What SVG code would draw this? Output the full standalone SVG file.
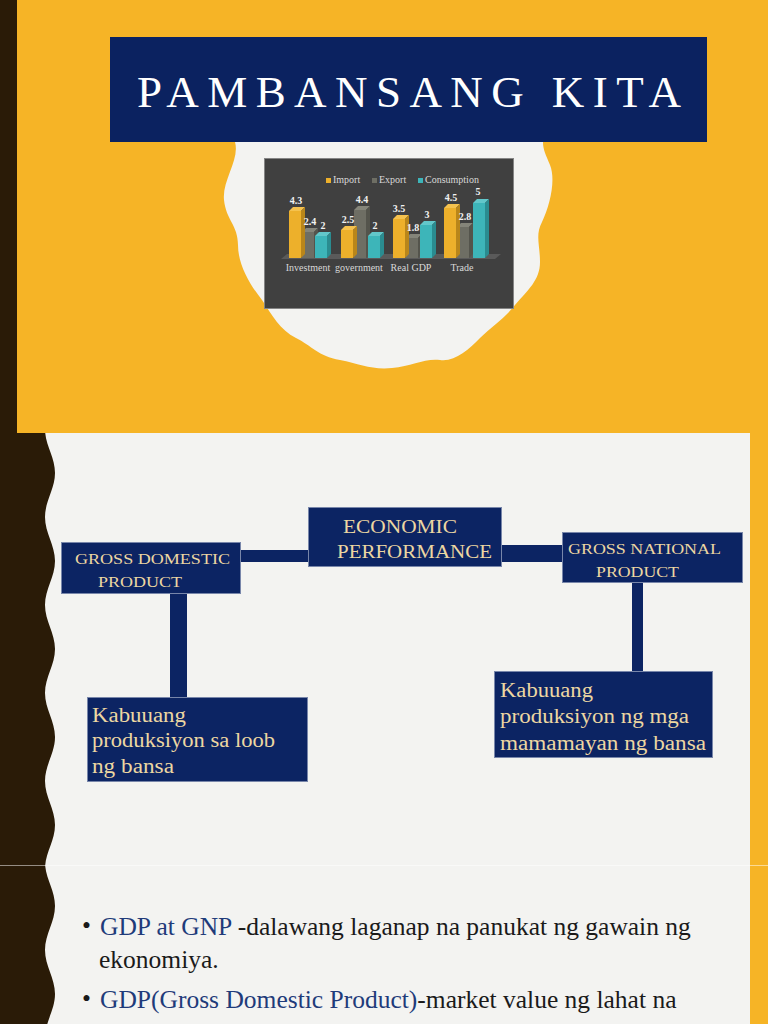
<svg xmlns="http://www.w3.org/2000/svg" width="768" height="1024" viewBox="0 0 768 1024">
<defs>
<style>
.serif{font-family:"Liberation Serif","DejaVu Serif",serif}
.node{fill:#0C2463;stroke:#7886aa;stroke-width:1}
.ntext{font-family:"Liberation Serif","DejaVu Serif",serif;fill:#EDD7A2}
.conn{fill:#0C2463}
.ctext{font-family:"Liberation Serif","DejaVu Serif",serif;font-size:10px;fill:#d9d9d9}
.val{font-family:"Liberation Serif","DejaVu Serif",serif;font-size:10px;font-weight:bold;fill:#f2f2f2;text-anchor:middle}
.imp{fill:#EDB02B}.impT{fill:#F5C24E}.impS{fill:#B9861A}
.exp{fill:#6E6E64}.expT{fill:#85857a}.expS{fill:#54544c}
.con{fill:#3DB5B9}.conT{fill:#62C7CA}.conS{fill:#2A8C90}
.body{font-family:"Liberation Serif","DejaVu Serif",serif;font-size:25.5px;fill:#1a1a1a}
.blue{fill:#1F3B7A}
</style>
<clipPath id="c2"><rect x="0" y="433" width="768" height="433"/></clipPath>
<clipPath id="c3"><rect x="0" y="866" width="768" height="158"/></clipPath>
</defs>

<!-- Slide 1 -->
<g id="slide1">
<rect x="0" y="0" width="768" height="433" fill="#F6B426"/>
<rect x="0" y="0" width="17" height="433" fill="#2A1B07"/>
<path id="cloud" d="M235,142 C240,160 222,180 224,200 C226,220 238,225 238,245 C238,265 250,285 262,300 C272,315 280,330 296,338 C312,346 318,356 340,360 C360,364 372,370 392,368 C412,366 425,358 440,360 C455,362 468,350 480,338 C492,326 505,318 515,305 C528,290 540,280 540,262 C540,245 535,235 542,222 C550,205 556,180 550,165 C546,155 543,150 543,142 Z" fill="#F3F3F1"/>
</g>

<g id="title">
<rect x="110" y="37" width="597" height="105" fill="#0B2260"/>
<text x="137" y="107" class="serif" font-family="Liberation Serif, serif" font-size="45" fill="#ffffff" textLength="544" lengthAdjust="spacing">PAMBANSANG KITA</text>
</g>

<g id="chart">
<rect x="264.5" y="158.5" width="249" height="150" fill="#404040" stroke="#858585" stroke-width="1"/>
<rect x="326" y="178" width="5" height="5" class="imp"/>
<text x="333" y="183" class="ctext">Import</text>
<rect x="372" y="178" width="5" height="5" class="exp"/>
<text x="379" y="183" class="ctext">Export</text>
<rect x="418" y="178" width="5" height="5" class="con"/>
<text x="425" y="183" class="ctext">Consumption</text>
<polygon points="281,259 495,259 501,254 287,254" fill="#5a5a5a"/>
<polygon points="302,232 306,228 318,228 314,232" class="expT"/><polygon points="314,232 318,228 318,254 314,258" class="expS"/><rect x="302" y="232" width="12" height="26" class="exp"/>
<polygon points="289,211 293,207 305,207 301,211" class="impT"/><polygon points="301,211 305,207 305,254 301,258" class="impS"/><rect x="289" y="211" width="12" height="47" class="imp"/>
<polygon points="315,236 319,232 331,232 327,236" class="conT"/><polygon points="327,236 331,232 331,254 327,258" class="conS"/><rect x="315" y="236" width="12" height="22" class="con"/>
<polygon points="354,210 358,206 370,206 366,210" class="expT"/><polygon points="366,210 370,206 370,254 366,258" class="expS"/><rect x="354" y="210" width="12" height="48" class="exp"/>
<polygon points="341,230 345,226 357,226 353,230" class="impT"/><polygon points="353,230 357,226 357,254 353,258" class="impS"/><rect x="341" y="230" width="12" height="28" class="imp"/>
<polygon points="368,236 372,232 384,232 380,236" class="conT"/><polygon points="380,236 384,232 384,254 380,258" class="conS"/><rect x="368" y="236" width="12" height="22" class="con"/>
<polygon points="406,238 410,234 422,234 418,238" class="expT"/><polygon points="418,238 422,234 422,254 418,258" class="expS"/><rect x="406" y="238" width="12" height="20" class="exp"/>
<polygon points="393,219 397,215 409,215 405,219" class="impT"/><polygon points="405,219 409,215 409,254 405,258" class="impS"/><rect x="393" y="219" width="12" height="39" class="imp"/>
<polygon points="420,225 424,221 436,221 432,225" class="conT"/><polygon points="432,225 436,221 436,254 432,258" class="conS"/><rect x="420" y="225" width="12" height="33" class="con"/>
<polygon points="457,227 461,223 473,223 469,227" class="expT"/><polygon points="469,227 473,223 473,254 469,258" class="expS"/><rect x="457" y="227" width="12" height="31" class="exp"/>
<polygon points="444,208 448,204 460,204 456,208" class="impT"/><polygon points="456,208 460,204 460,254 456,258" class="impS"/><rect x="444" y="208" width="12" height="50" class="imp"/>
<polygon points="473,203 477,199 489,199 485,203" class="conT"/><polygon points="485,203 489,199 489,254 485,258" class="conS"/><rect x="473" y="203" width="12" height="55" class="con"/>
<text x="296" y="204" class="val">4.3</text>
<text x="310" y="225" class="val">2.4</text>
<text x="323" y="229" class="val">2</text>
<text x="348" y="223" class="val">2.5</text>
<text x="362" y="203" class="val">4.4</text>
<text x="375" y="229" class="val">2</text>
<text x="399" y="212" class="val">3.5</text>
<text x="413" y="231" class="val">1.8</text>
<text x="427" y="218" class="val">3</text>
<text x="451" y="201" class="val">4.5</text>
<text x="465" y="220" class="val">2.8</text>
<text x="478" y="195" class="val">5</text>
<text x="308" y="271" class="ctext" text-anchor="middle">Investment</text>
<text x="359" y="271" class="ctext" text-anchor="middle">government</text>
<text x="411" y="271" class="ctext" text-anchor="middle">Real GDP</text>
<text x="462" y="271" class="ctext" text-anchor="middle">Trade</text>
</g>

<!-- Slide 2 -->
<g id="slide2" clip-path="url(#c2)">
<rect x="0" y="433" width="768" height="433" fill="#F3F3F1"/>
<rect x="750" y="433" width="18" height="433" fill="#F6B426"/>
<path d="M0,429 H45 C45,445 55,457 55,473 C55,489 45,501 45,517 C45,533 55,545 55,561 C55,577 45,589 45,605 C45,621 55,633 55,649 C55,665 45,677 45,693 C45,709 55,721 55,737 C55,753 45,765 45,781 C45,797 55,809 55,825 C55,841 45,853 45,869 H0 Z" fill="#2A1B07"/>
</g>

<g id="connectors">
<rect x="241" y="550" width="68" height="12" class="conn"/>
<rect x="500" y="545" width="63" height="17" class="conn"/>
<rect x="170" y="593" width="17" height="105" class="conn"/>
<rect x="632" y="582" width="11" height="90" class="conn"/>
</g>

<g id="economic-performance">
<rect x="308.5" y="507.5" width="193" height="59" class="node"/>
<text x="343" y="533" class="ntext" font-family="Liberation Serif, serif" font-size="19.5" textLength="114" lengthAdjust="spacingAndGlyphs">ECONOMIC</text>
<text x="337" y="558" class="ntext" font-family="Liberation Serif, serif" font-size="19.5" textLength="155" lengthAdjust="spacingAndGlyphs">PERFORMANCE</text>
</g>

<g id="gdp">
<rect x="61.5" y="542.5" width="179" height="51" class="node"/>
<text x="75" y="564" class="ntext" font-family="Liberation Serif, serif" font-size="15.5" textLength="155" lengthAdjust="spacingAndGlyphs">GROSS DOMESTIC</text>
<text x="98" y="587" class="ntext" font-family="Liberation Serif, serif" font-size="15.5" textLength="84" lengthAdjust="spacingAndGlyphs">PRODUCT</text>
</g>

<g id="gnp">
<rect x="562.5" y="532.5" width="180" height="50" class="node"/>
<text x="568" y="554" class="ntext" font-family="Liberation Serif, serif" font-size="15.5" textLength="153" lengthAdjust="spacingAndGlyphs">GROSS NATIONAL</text>
<text x="596" y="577" class="ntext" font-family="Liberation Serif, serif" font-size="15.5" textLength="83" lengthAdjust="spacingAndGlyphs">PRODUCT</text>
</g>

<g id="gdp-def">
<rect x="87.5" y="697.5" width="220" height="84" class="node"/>
<text x="92" y="722" class="ntext" font-family="Liberation Serif, serif" font-size="20" textLength="94" lengthAdjust="spacingAndGlyphs">Kabuuang</text>
<text x="92" y="747" class="ntext" font-family="Liberation Serif, serif" font-size="20" textLength="183" lengthAdjust="spacingAndGlyphs">produksiyon sa loob</text>
<text x="92" y="773" class="ntext" font-family="Liberation Serif, serif" font-size="20" textLength="82" lengthAdjust="spacingAndGlyphs">ng bansa</text>
</g>

<g id="gnp-def">
<rect x="494.5" y="671.5" width="218" height="86" class="node"/>
<text x="500" y="697" class="ntext" font-family="Liberation Serif, serif" font-size="20" textLength="93" lengthAdjust="spacingAndGlyphs">Kabuuang</text>
<text x="500" y="723" class="ntext" font-family="Liberation Serif, serif" font-size="20" textLength="189" lengthAdjust="spacingAndGlyphs">produksiyon ng mga</text>
<text x="500" y="750" class="ntext" font-family="Liberation Serif, serif" font-size="20" textLength="206" lengthAdjust="spacingAndGlyphs">mamamayan ng bansa</text>
</g>

<!-- Slide 3 -->
<g id="slide3" clip-path="url(#c3)">
<rect x="0" y="866" width="768" height="158" fill="#F3F3F1"/>
<rect x="750" y="866" width="18" height="158" fill="#F6B426"/>
<path d="M0,862 H45 C45,878 55,890 55,906 C55,922 45,934 45,950 C45,966 55,978 55,994 C55,1010 45,1022 45,1038 H0 Z" fill="#2A1B07"/>
</g>
<line x1="0" y1="865.5" x2="768" y2="865.5" stroke="#ffffff" stroke-opacity="0.5" stroke-width="1"/>

<g id="bullets">
<text x="82" y="934" class="body" font-family="Liberation Serif, serif" font-size="16">•</text>
<text x="100" y="935" class="body" font-family="Liberation Serif, serif"><tspan class="blue">GDP at GNP</tspan> -dalawang laganap na panukat ng gawain ng</text>
<text x="99" y="968" class="body" font-family="Liberation Serif, serif">ekonomiya.</text>
<text x="82" y="1007" class="body" font-family="Liberation Serif, serif" font-size="16">•</text>
<text x="100" y="1008" class="body" font-family="Liberation Serif, serif"><tspan class="blue">GDP(Gross Domestic Product)</tspan>-market value ng lahat na</text>
</g>
</svg>
